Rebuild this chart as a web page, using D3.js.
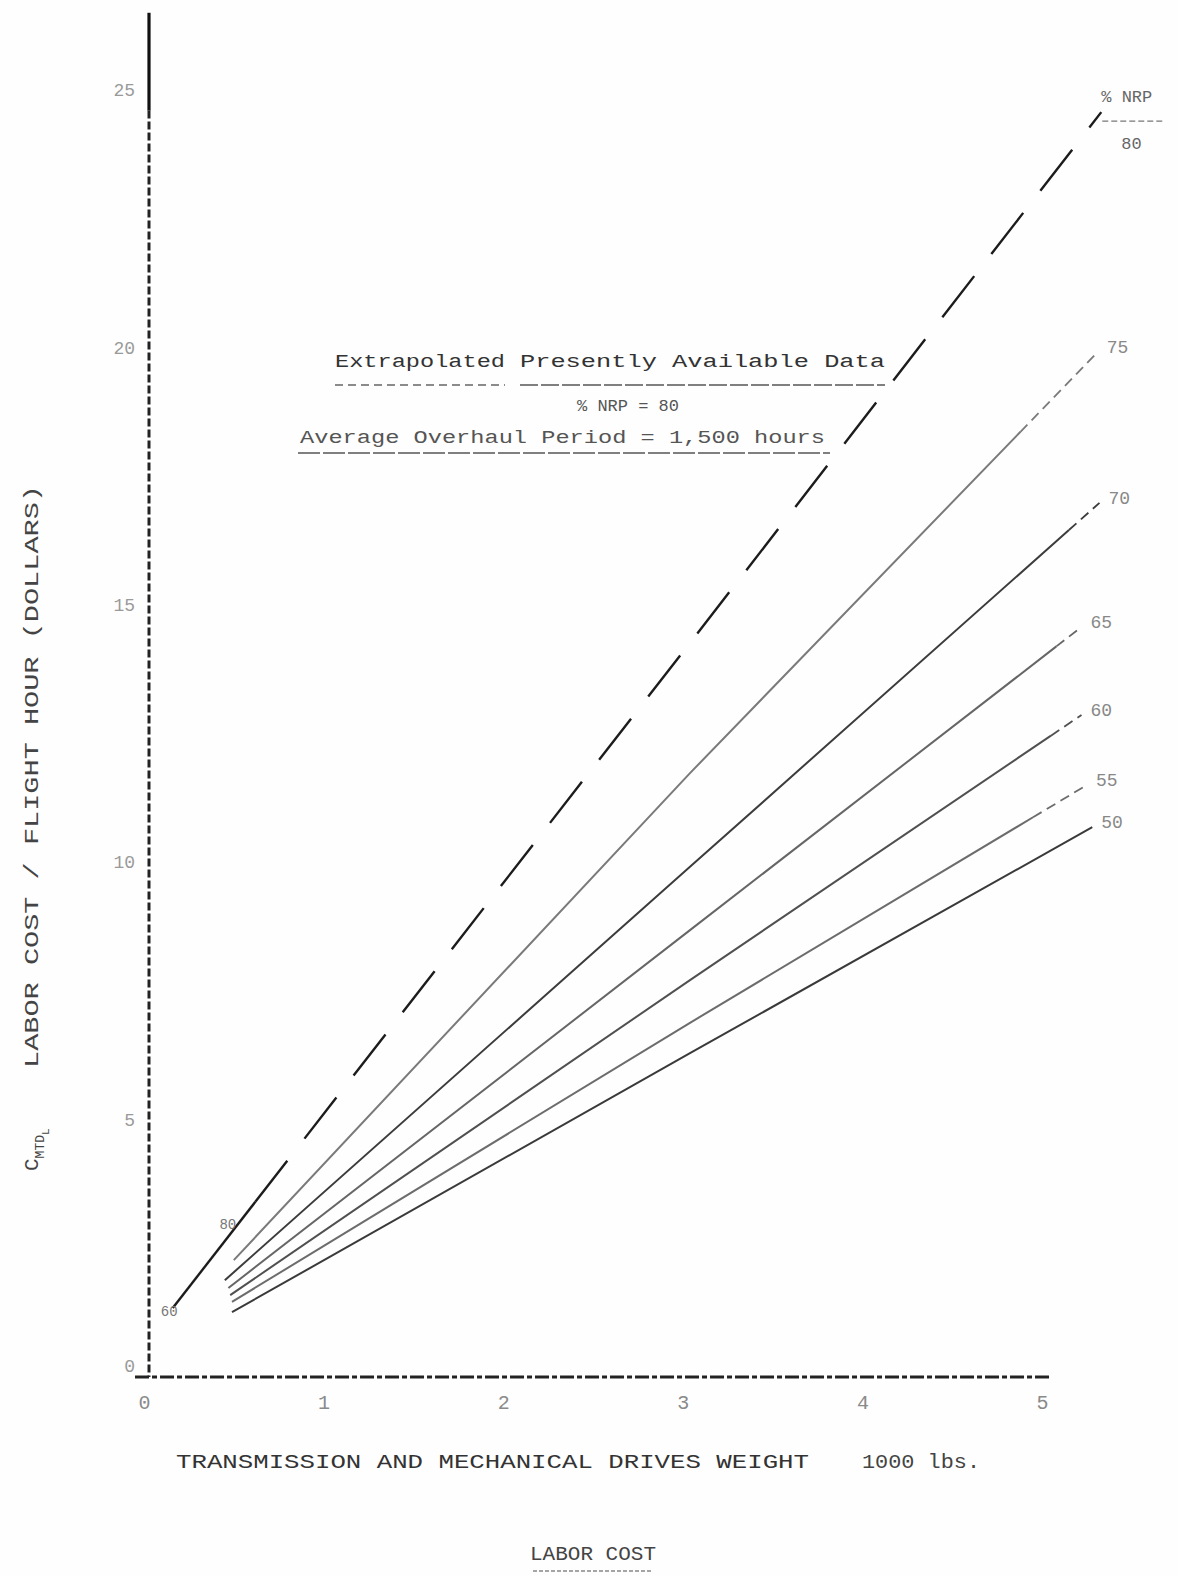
<!DOCTYPE html>
<html><head><meta charset="utf-8">
<script src="https://cdn.jsdelivr.net/npm/d3@7"></script>
<style>body{margin:0;background:#fff}</style>
</head><body><svg id="c" width="1178" height="1576"></svg>
<script>
// ---- data ----
const nrpLevels = ["80","75","70","65","60","55","50"];
const xStart = [0.16, 0.50, 0.45, 0.47, 0.48, 0.49, 0.49];
const yStart = [1.34, 2.27, 1.88, 1.73, 1.59, 1.46, 1.26];
const xMid   = [3.04, 3.04, 3.04, 3.04, 3.04, 3.04, 3.04];
const yMid   = [14.26, 11.73, 9.91, 8.68, 7.71, 6.88, 6.29];
const xEnd   = [5.33, 5.31, 5.32, 5.22, 5.22, 5.25, 5.28];
const yEnd   = [24.57, 19.91, 16.98, 14.57, 12.86, 11.50, 10.68];
const extrapolatedFrom = [0.62, 4.88, 5.15, 5.08, 5.05, 4.95, null];
const xTicks = [0,1,2,3,4,5];
const yTicks = [0,5,10,15,20,25];
const xTitle = "TRANSMISSION AND MECHANICAL DRIVES WEIGHT";
const xUnit = "1000 lbs.";
const yTitle = "LABOR COST / FLIGHT HOUR (DOLLARS)";
const chartTitle = "LABOR COST";

// ---- scales ----
const svg = d3.select("#c");
svg.append("rect").attr("width",1178).attr("height",1576).attr("fill","#fefefe");
const x = d3.scaleLinear().domain([0,5]).range([144,1042]);
const y = d3.scaleLinear().domain([0,25]).range([1377,90]);
const mono = "'Liberation Mono', 'DejaVu Sans Mono', monospace";
const fmt = d3.format("d");

// ---- axes ----
const yAx = svg.append("g").attr("transform",`translate(${x(0)+5},0)`)
  .call(d3.axisLeft(y).tickValues(yTicks).tickFormat(fmt).tickSize(0).tickPadding(14));
yAx.select(".domain").remove();
yAx.selectAll("text").attr("font-family",mono).attr("font-size",18).attr("fill","#9a9a9a")
  .attr("dy", (d)=> d===0 ? "-0.3em" : "0.32em");
svg.append("line").attr("x1",x(0)+5).attr("x2",x(0)+5).attr("y1",y(26.5)).attr("y2",y(24.6))
  .attr("stroke","#111").attr("stroke-width",3.2);
svg.append("line").attr("x1",x(0)+5).attr("x2",x(0)+5).attr("y1",y(24.6)).attr("y2",y(0))
  .attr("stroke","#222").attr("stroke-width",3).attr("stroke-dasharray","8,3");

const xAx = svg.append("g").attr("transform",`translate(0,${y(0)})`)
  .call(d3.axisBottom(x).tickValues(xTicks).tickFormat(fmt).tickSize(0).tickPadding(18));
xAx.select(".domain").remove();
xAx.selectAll("text").attr("font-family",mono).attr("font-size",20).attr("fill","#8a8a8a");
svg.append("line").attr("x1",x(-0.05)).attr("x2",x(5.05)).attr("y1",y(0)).attr("y2",y(0))
  .attr("stroke","#222").attr("stroke-width",3).attr("stroke-dasharray","14,3,5,3");

// ---- lines ----
const colors = ["#1c1c1c","#7a7a7a","#3c3c3c","#666","#505050","#6c6c6c","#3a3a3a"];
const line = d3.line().x(d=>x(d[0])).y(d=>y(d[1]));
nrpLevels.forEach((lev,i)=>{
  const pts = [[xStart[i],yStart[i]],[xMid[i],yMid[i]],[xEnd[i],yEnd[i]]];
  const f = d3.scaleLinear().domain(pts.map(p=>p[0])).range(pts.map(p=>p[1]));
  const e = extrapolatedFrom[i];
  let solid = pts, dashed = null;
  if (e !== null) {
    solid = pts.filter(p=>p[0]<e).concat([[e,f(e)]]);
    dashed = [[e,f(e)]].concat(pts.filter(p=>p[0]>e));
  }
  svg.append("path").attr("d",line(solid)).attr("fill","none")
    .attr("stroke",colors[i]).attr("stroke-width",i===0?2.4:2);
  if (dashed) svg.append("path").attr("d",line(dashed)).attr("fill","none")
    .attr("stroke",colors[i]).attr("stroke-width",i===0?2.4:1.8)
    .attr("stroke-dasharray", i===0 ? "52,28" : "10,6");
  if (i===0) {
    const g = svg.append("g").attr("font-family",mono).attr("fill","#666").attr("font-size",17);
    g.append("text").attr("x",x(xEnd[i])).attr("y",y(yEnd[i])-10).text("% NRP");
    g.append("line").attr("x1",x(xEnd[i])+1).attr("x2",x(xEnd[i])+62)
      .attr("y1",y(yEnd[i])+9).attr("y2",y(yEnd[i])+9)
      .attr("stroke","#777").attr("stroke-width",1.3).attr("stroke-dasharray","6,3");
    g.append("text").attr("x",x(xEnd[i])+20).attr("y",y(yEnd[i])+37).text(lev);
  } else {
    svg.append("text").attr("x",x(xEnd[i])+9).attr("y",y(yEnd[i])-4)
      .attr("dominant-baseline","middle").attr("font-family",mono)
      .attr("font-size",18).attr("fill","#888").text(lev);
  }
});
// small start annotations of the 80 % curve
svg.append("text").attr("x",x(xStart[0])-12).attr("y",y(yStart[0])+8)
  .attr("font-family",mono).attr("font-size",14).attr("fill","#777").text("60");
svg.append("text").attr("x",x(0.42)).attr("y",y(3.0)+6)
  .attr("font-family",mono).attr("font-size",14).attr("fill","#777").text("80");

// ---- legend box text ----
const lg = svg.append("g").attr("font-family",mono).attr("fill","#333");
lg.append("text").attr("x",335).attr("y",367).attr("font-size",19)
  .attr("textLength",170).attr("lengthAdjust","spacingAndGlyphs").text("Extrapolated");
lg.append("text").attr("x",520).attr("y",367).attr("font-size",19)
  .attr("textLength",365).attr("lengthAdjust","spacingAndGlyphs").text("Presently Available Data");
lg.append("line").attr("x1",335).attr("x2",505).attr("y1",385).attr("y2",385)
  .attr("stroke","#666").attr("stroke-width",1.5).attr("stroke-dasharray","8,5");
lg.append("line").attr("x1",520).attr("x2",885).attr("y1",385).attr("y2",385)
  .attr("stroke","#555").attr("stroke-width",1.6).attr("stroke-dasharray","18,3");
lg.append("text").attr("x",628).attr("y",411).attr("font-size",17).attr("fill","#555")
  .attr("text-anchor","middle").text("% NRP = 80");
lg.append("text").attr("x",300).attr("y",443).attr("font-size",18).attr("fill","#555")
  .attr("textLength",525).attr("lengthAdjust","spacingAndGlyphs")
  .text("Average Overhaul Period = 1,500 hours");
lg.append("line").attr("x1",298).attr("x2",830).attr("y1",453).attr("y2",453)
  .attr("stroke","#555").attr("stroke-width",1.6).attr("stroke-dasharray","22,3");

// ---- titles ----
svg.append("text").attr("x",176).attr("y",1468).attr("font-family",mono).attr("font-size",21)
  .attr("fill","#333").attr("textLength",633).attr("lengthAdjust","spacingAndGlyphs").text(xTitle);
svg.append("text").attr("x",862).attr("y",1468).attr("font-family",mono).attr("font-size",21)
  .attr("fill","#444").attr("textLength",118).attr("lengthAdjust","spacingAndGlyphs").text(xUnit);
svg.append("text").attr("x",593).attr("y",1560).attr("font-family",mono).attr("font-size",21)
  .attr("fill","#444").attr("text-anchor","middle").text(chartTitle);
svg.append("line").attr("x1",533).attr("x2",653).attr("y1",1571).attr("y2",1571)
  .attr("stroke","#888").attr("stroke-width",1.5).attr("stroke-dasharray","4,2");

const yt = svg.append("text").attr("transform","translate(38,1171) rotate(-90)")
  .attr("font-family",mono).attr("font-size",21).attr("fill","#444");
yt.append("tspan").text("C");
yt.append("tspan").attr("font-size",13).attr("dy",6).text("MTD");
yt.append("tspan").attr("font-size",11).attr("dy",5).text("L");
yt.append("tspan").attr("dy",-11).attr("x",103).text(yTitle)
  .attr("textLength",583).attr("lengthAdjust","spacingAndGlyphs");
</script></body></html>
